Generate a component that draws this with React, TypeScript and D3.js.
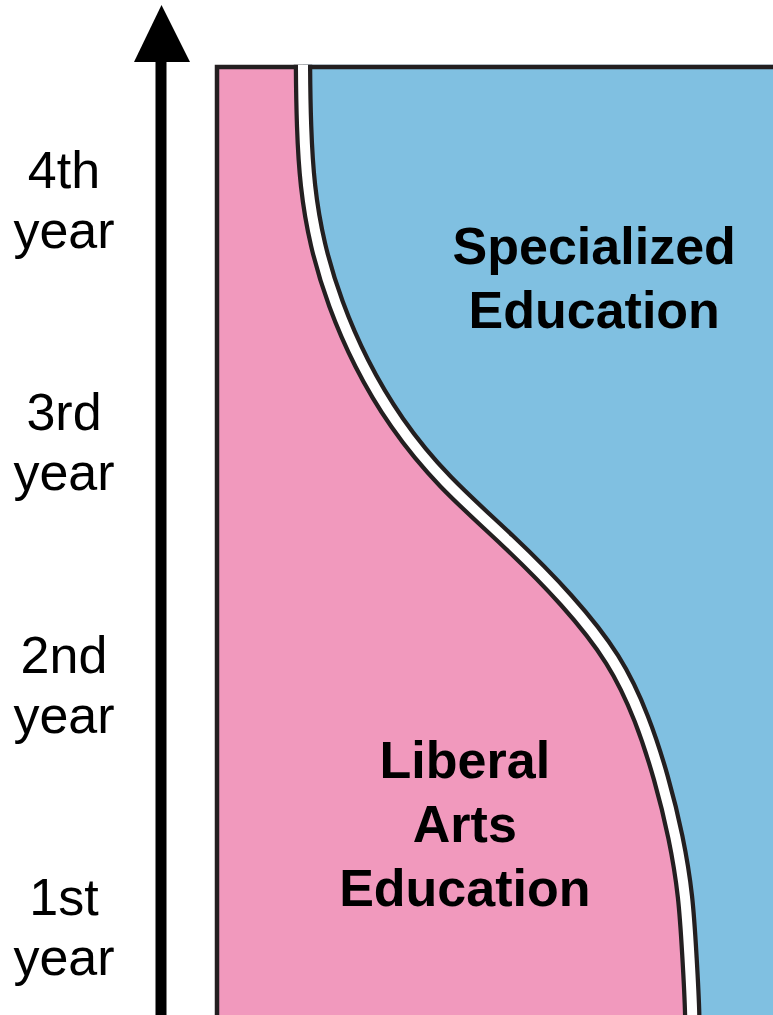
import * as d3 from 'd3';
import { useRef, useEffect } from 'react';

// years of study, bottom to top
const yearLabels = ['1st', '2nd', '3rd', '4th'];
// time (years from start, top first) and the liberal-arts share of the curriculum at that time
const timePoints = [4.0, 3.75, 3.5, 3.25, 3.0, 2.75, 2.5, 2.25, 2.0, 1.75, 1.5, 1.25, 1.0, 0.75, 0.5, 0.25, 0];
const liberalShare = [0.150, 0.152, 0.159, 0.177, 0.209, 0.255, 0.318, 0.405, 0.516, 0.620, 0.702, 0.754, 0.789, 0.815, 0.832, 0.840, 0.845];
const areaLabels = [
  { name: 'Specialized', lines: ['Specialized', 'Education'], t: 3.17, share: 0.67 },
  { name: 'Liberal', lines: ['Liberal', 'Arts', 'Education'], t: 1.0, share: 0.439 },
];

const App = () => {
  const svgRef = useRef<SVGSVGElement>(null);

  useEffect(() => {
    const svg = d3.select(svgRef.current);
    const width = 773;
    const height = 1015;
    const pink = '#f199bd';
    const blue = '#80c0e1';
    const ink = '#231f20';
    const font = '"Liberation Sans", Arial, sans-serif';

    svg.attr('width', width).attr('height', height);
    svg.selectAll('*').remove();

    const x = d3.scaleLinear().domain([0, 1]).range([219, 779]);
    const y = d3.scaleLinear().domain([0, 4]).range([1015, 67]);
    const labelY = d3.scalePoint().domain(yearLabels).range([915, 188]);

    const pts = timePoints.map((t, i) => ({ t, s: liberalShare[i] }));
    const ext = [
      { t: 4.25, s: liberalShare[0] },
      ...pts,
      { t: -0.25, s: liberalShare[liberalShare.length - 1] },
    ];
    const top = y(4);

    // pink background (liberal arts)
    svg.append('rect')
      .attr('x', 217).attr('y', top)
      .attr('width', 600).attr('height', height - top + 10)
      .attr('fill', pink);

    // clip to the box
    svg.append('clipPath').attr('id', 'boxclip')
      .append('rect')
      .attr('x', 210).attr('y', top - 2.3)
      .attr('width', 700).attr('height', height);

    // blue area (specialized)
    const area = d3.area<{ t: number; s: number }>()
      .y(d => y(d.t))
      .x0(d => x(d.s))
      .x1(820)
      .curve(d3.curveNatural);
    svg.append('path')
      .datum(ext)
      .attr('clip-path', 'url(#boxclip)')
      .attr('d', area)
      .attr('fill', blue);

    // box border
    svg.append('path')
      .attr('d', `M217,${height + 10}V${top}H800`)
      .attr('fill', 'none')
      .attr('stroke', ink)
      .attr('stroke-width', 4.5);

    // separator band
    const line = d3.line<{ t: number; s: number }>()
      .y(d => y(d.t))
      .x(d => x(d.s))
      .curve(d3.curveNatural);
    const band = svg.append('g').attr('clip-path', 'url(#boxclip)');
    band.append('path').datum(ext).attr('d', line)
      .attr('fill', 'none').attr('stroke', ink).attr('stroke-width', 18.5);
    band.append('path').datum(ext).attr('d', line)
      .attr('fill', 'none').attr('stroke', '#fff').attr('stroke-width', 10);

    // time arrow
    svg.append('rect')
      .attr('x', 155.5).attr('y', 55)
      .attr('width', 11).attr('height', height);
    svg.append('path')
      .attr('d', 'M161.5,5L134,62L190,62Z')
      .attr('fill', '#000');

    // year labels
    yearLabels.forEach(lab => {
      const t = svg.append('text')
        .attr('text-anchor', 'middle')
        .style('font-family', font)
        .style('font-size', '52px')
        .attr('fill', '#000');
      t.append('tspan').attr('x', 64).attr('y', labelY(lab)!).text(lab);
      t.append('tspan').attr('x', 64).attr('y', labelY(lab)! + 60).text('year');
    });

    // area labels
    areaLabels.forEach(a => {
      const t = svg.append('text')
        .attr('text-anchor', 'middle')
        .style('font-family', font)
        .style('font-size', '52px')
        .style('font-weight', 'bold')
        .attr('fill', '#000');
      a.lines.forEach((l, i) => {
        t.append('tspan')
          .attr('x', x(a.share))
          .attr('y', y(a.t) + i * 64)
          .text(l);
      });
    });
  }, []);

  return (
    <div style={{ position: 'absolute', left: 0, top: 0 }}>
      <svg ref={svgRef} style={{ display: 'block' }}></svg>
    </div>
  );
};

export default App;
